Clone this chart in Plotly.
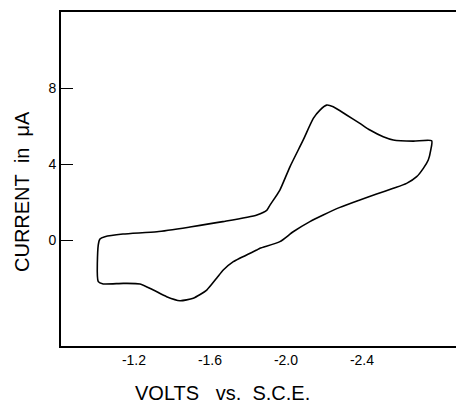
import plotly.graph_objects as go

# Cyclic voltammogram (volts vs. S.C.E., current in microamps)
volts = [-1.012, -1.021, -1.047, -1.142, -1.321, -1.495, -1.668, -1.847, -1.900, -1.916,
         -1.968, -2.021, -2.091, -2.144, -2.179, -2.214, -2.249, -2.319, -2.389, -2.442,
         -2.512, -2.565, -2.670, -2.767,
         -2.762, -2.749, -2.723, -2.688, -2.635, -2.565, -2.477, -2.389, -2.284, -2.196,
         -2.126, -2.038, -1.968, -1.863, -1.846, -1.723, -1.670, -1.635, -1.583, -1.512,
         -1.442, -1.372, -1.302, -1.232, -1.144, -1.038, -1.012, -1.012]
current = [-0.24, 0.08, 0.20, 0.34, 0.46, 0.71, 0.99, 1.34, 1.60, 1.86,
           2.65, 3.87, 5.28, 6.41, 6.85, 7.11, 7.02, 6.59, 6.15, 5.80,
           5.45, 5.28, 5.22, 5.24,
           4.75, 4.23, 3.79, 3.35, 3.00, 2.74, 2.44, 2.13, 1.74, 1.34,
           0.99, 0.46, -0.06, -0.41, -0.50, -1.11, -1.55, -1.98, -2.60, -3.03,
           -3.16, -2.95, -2.60, -2.28, -2.25, -2.28, -2.16, -0.24]

x_tickvals = [-1.2, -1.6, -2.0, -2.4]
x_ticktext = ["-1.2", "-1.6", "-2.0", "-2.4"]
y_tickvals = [0, 4, 8]
y_ticktext = ["0", "4", "8"]

fig = go.Figure()
fig.add_trace(go.Scatter(
    x=volts, y=current, mode="lines",
    line=dict(color="black", width=1.6, shape="spline", smoothing=0.6),
    hoverinfo="skip", showlegend=False,
))

tick_font = dict(family="Liberation Sans Narrow, Arial Narrow, Liberation Sans, Arial", size=14, color="black")
title_font = dict(family="Liberation Sans, Arial", size=20, color="black")

W, H = 456, 404
ml, mt, mr, mb = 61, 12, 0, 58
pw, ph = W - ml - mr, H - mt - mb  # 395 x 334

fig.update_layout(
    width=W, height=H,
    margin=dict(l=ml, r=mr, t=mt, b=mb),
    paper_bgcolor="white", plot_bgcolor="white",
    xaxis=dict(
        range=[-0.816, -2.895],
        tickvals=x_tickvals, ticktext=x_ticktext,
        ticks="", showgrid=False, zeroline=False,
        showline=True, linecolor="black", linewidth=2, mirror=True,
        tickfont=tick_font,
    ),
    yaxis=dict(
        range=[-5.54, 12.0],
        tickvals=y_tickvals, ticktext=y_ticktext,
        ticks="inside", ticklen=12, tickwidth=1.2, tickcolor="black",
        showgrid=False, zeroline=False,
        showline=True, linecolor="black", linewidth=2, mirror=False,
        tickfont=tick_font,
    ),
    annotations=[
        dict(text="VOLTS\u00a0\u00a0 vs.\u00a0\u00a0S.C.E.", xref="paper", yref="paper",
             x=(222.5 - ml) / pw, y=-(393 - (mt + ph)) / ph,
             xanchor="center", yanchor="middle",
             showarrow=False, font=title_font),
        dict(text="CURRENT\u00a0\u00a0in\u00a0\u00a0\u03bcA", xref="paper", yref="paper",
             x=-(ml - 22) / pw, y=((mt + ph) - 192) / ph,
             xanchor="center", yanchor="middle",
             textangle=-90,
             showarrow=False, font=title_font),
    ],
)

# Remove the browser's default page margin so the figure sits at the window's top-left corner.
fig.write_html(
    "out.html",
    config={"displayModeBar": False, "staticPlot": True},
    post_script="document.body.style.margin='0';document.body.style.overflow='hidden';",
)
